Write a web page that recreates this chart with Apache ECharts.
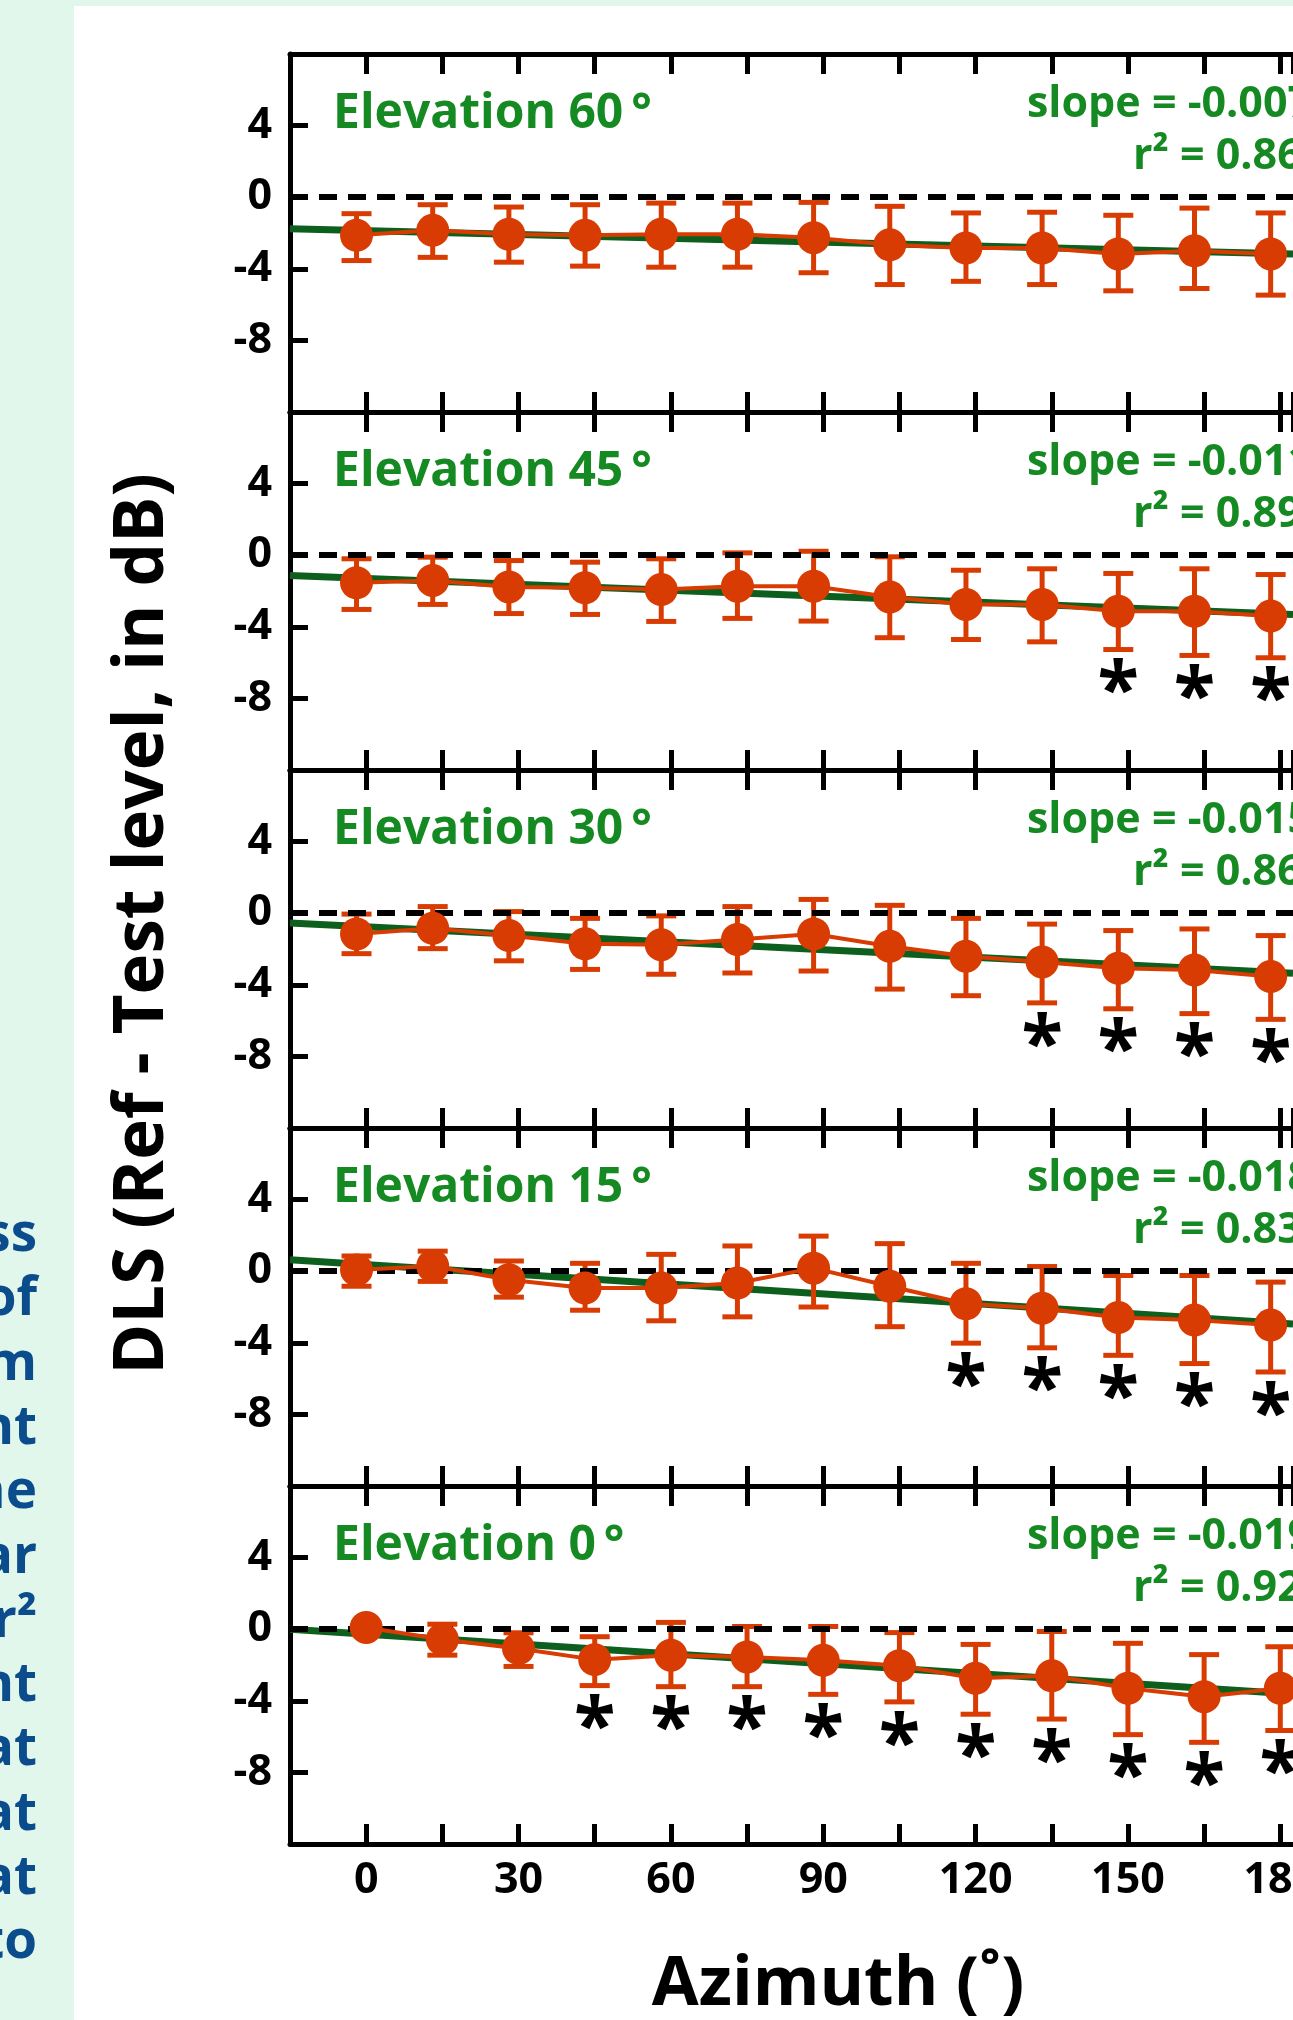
<!DOCTYPE html>
<html><head><meta charset="utf-8">
<script src="https://cdn.jsdelivr.net/npm/echarts@6/dist/echarts.min.js"></script>
<style>html,body{margin:0;padding:0;background:#fff}#c{width:1293px;height:2020px}</style>
</head><body><div id="c"></div>
<script>
// ---------- data ----------
const azimuths = [0, 15, 30, 45, 60, 75, 90, 105, 120, 135, 150, 165, 180];
const xTickLabels = [0, 30, 60, 90, 120, 150, 180];
const yTickLabels = [4, 0, -4, -8];
const panelTitles = ['Elevation 60\u2009°', 'Elevation 45\u2009°', 'Elevation 30\u2009°', 'Elevation 15\u2009°', 'Elevation 0\u2009°'];
const slopeTexts = ['-0.007', '-0.011', '-0.015', '-0.018', '-0.019'];
const r2Texts = ['0.86', '0.89', '0.86', '0.83', '0.92'];

const mean60  = [-2.13, -1.85, -2.07, -2.13, -2.07, -2.07, -2.26, -2.66, -2.84, -2.84, -3.17, -2.99, -3.17];
const upper60 = [-0.92, -0.42, -0.55, -0.42, -0.33, -0.33, -0.29, -0.51, -0.88, -0.84, -1.01, -0.61, -0.88];
const lower60 = [-3.54, -3.36, -3.63, -3.85, -3.91, -3.91, -4.22, -4.88, -4.70, -4.88, -5.23, -5.10, -5.47];
const sig60 = [];
const fit60 = [[-15, -1.76], [182.5, -3.18]];

const mean45  = [-1.54, -1.41, -1.77, -1.82, -1.92, -1.73, -1.73, -2.34, -2.75, -2.75, -3.13, -3.13, -3.40];
const upper45 = [-0.20, -0.11, -0.30, -0.39, -0.20, 0.13, 0.22, -0.09, -0.84, -0.76, -1.02, -0.76, -1.08];
const lower45 = [-3.03, -2.75, -3.26, -3.31, -3.70, -3.53, -3.68, -4.61, -4.71, -4.84, -5.27, -5.60, -5.73];
const sig45 = [150, 165, 180];
const fit45 = [[-15, -1.13], [182.5, -3.31]];

const mean30  = [-1.16, -0.84, -1.25, -1.71, -1.76, -1.47, -1.16, -1.85, -2.40, -2.72, -3.08, -3.17, -3.54];
const upper30 = [-0.05, 0.37, 0.09, -0.29, -0.15, 0.37, 0.77, 0.44, -0.29, -0.61, -0.97, -0.88, -1.25];
const lower30 = [-2.26, -1.98, -2.66, -3.14, -3.41, -3.34, -3.23, -4.24, -4.61, -5.01, -5.34, -5.61, -5.93];
const sig30 = [135, 150, 165, 180];
const fit30 = [[-15, -0.55], [182.5, -3.36]];

const mean15  = [0.07, 0.29, -0.48, -0.94, -0.94, -0.66, 0.17, -0.84, -1.82, -2.07, -2.59, -2.73, -3.01];
const upper15 = [0.85, 1.12, 0.57, 0.44, 0.94, 1.41, 1.96, 1.54, 0.44, 0.26, -0.24, -0.24, -0.61];
const lower15 = [-0.84, -0.57, -1.45, -2.18, -2.77, -2.55, -2.00, -3.10, -4.02, -4.28, -4.70, -5.16, -5.63];
const sig15 = [120, 135, 150, 165, 180];
const fit15 = [[-15, 0.64], [182.5, -2.95]];

const mean0  = [0.10, -0.57, -1.08, -1.70, -1.45, -1.55, -1.74, -2.04, -2.74, -2.60, -3.30, -3.77, -3.30];
const upper0 = [0.35, 0.28, -0.20, -0.42, 0.38, 0.15, 0.15, -0.19, -0.85, -0.13, -0.79, -1.42, -0.98];
const lower0 = [-0.15, -1.45, -2.08, -3.15, -3.21, -3.21, -3.64, -4.06, -4.75, -5.02, -5.89, -6.32, -5.66];
const sig0 = [45, 60, 75, 90, 105, 120, 135, 150, 165, 180];
const fit0 = [[-15, 0.0], [182.5, -3.62]];

const sideTextLines = ['ss', 'of', 'm', 'nt', 'ne', 'ar', 'r²', 'nt', 'at', 'at', 'at', 'to'];

// ---------- style / layout ----------
const FONT = '"Open Sans", "DejaVu Sans", sans-serif';
const ORANGE = '#d83c02';
const FITGREEN = '#0c5f1c';
const TEXTGREEN = '#168a22';
const MINT = '#e1f7ec';
const GRID_LEFT = 290, GRID_TOP = 54, PANEL_H = 358, GRID_W = 1003;
const X_MIN = -15, X_MAX = 182.5;
const pointShift = [-1.9, -1.9, -1.9, -1.9, 0]; // drawn offset of points as seen in the figure

const panels = [
  {mean: mean60, upper: upper60, lower: lower60, sig: sig60, fit: fit60},
  {mean: mean45, upper: upper45, lower: lower45, sig: sig45, fit: fit45},
  {mean: mean30, upper: upper30, lower: lower30, sig: sig30, fit: fit30},
  {mean: mean15, upper: upper15, lower: lower15, sig: sig15, fit: fit15},
  {mean: mean0, upper: upper0, lower: lower0, sig: sig0, fit: fit0}
];

function errRender(params, api) {
  const x = api.value(0);
  const pLo = api.coord([x, api.value(1)]);
  const pHi = api.coord([x, api.value(2)]);
  const cw = 15;
  const st = {stroke: ORANGE, lineWidth: 5};
  return {type: 'group', children: [
    {type: 'line', shape: {x1: pLo[0], y1: pLo[1], x2: pHi[0], y2: pHi[1]}, style: st},
    {type: 'line', shape: {x1: pLo[0] - cw, y1: pLo[1], x2: pLo[0] + cw, y2: pLo[1]}, style: st},
    {type: 'line', shape: {x1: pHi[0] - cw, y1: pHi[1], x2: pHi[0] + cw, y2: pHi[1]}, style: st}
  ]};
}
function starRender(params, api) {
  const p = api.coord([api.value(0), api.value(1)]);
  return {type: 'text', x: p[0], y: p[1] + 44, style: {
    text: '*', fill: '#000', fontSize: 76, fontWeight: 'bold', fontFamily: FONT,
    align: 'center', textAlign: 'center', verticalAlign: 'middle', textVerticalAlign: 'middle'
  }};
}

const grids = [], xAxes = [], yAxes = [], series = [], graphics = [];

graphics.push({type: 'rect', shape: {x: 0, y: 0, width: 1293, height: 6}, style: {fill: MINT}, z: -10});
graphics.push({type: 'rect', shape: {x: 0, y: 0, width: 74, height: 2020}, style: {fill: MINT}, z: -10});
sideTextLines.forEach((t, k) => {
  graphics.push({type: 'text', x: 37, y: 1236 + k * 64.3, style: {
    text: t, fill: '#0b4d8c', fontSize: 53, fontWeight: 'bold', fontFamily: FONT,
    align: 'right', textAlign: 'right', verticalAlign: 'middle', textVerticalAlign: 'middle'}});
});

const lineSt = {color: '#000', width: 5};
panels.forEach((p, i) => {
  const top = GRID_TOP + i * PANEL_H;
  const last = i === panels.length - 1;
  grids.push({left: GRID_LEFT, top: top, width: GRID_W, height: PANEL_H, show: false,
    containLabel: false, outerBoundsMode: 'none'});
  const tickStyle = {show: true, inside: true, length: 20, lineStyle: {color: '#000', width: 5}};
  xAxes.push({type: 'value', gridIndex: i, position: 'bottom', min: X_MIN, max: X_MAX, interval: 15,
    axisLine: {show: true, onZero: false, lineStyle: lineSt}, splitLine: {show: false}, axisTick: tickStyle,
    axisLabel: {show: last, margin: 15, color: '#000', fontSize: 43, fontWeight: 'bold', fontFamily: FONT,
      showMinLabel: false, showMaxLabel: false, hideOverlap: false,
      formatter: v => xTickLabels.indexOf(v) >= 0 ? String(v) : ''}});
  xAxes.push({type: 'value', gridIndex: i, position: 'top', min: X_MIN, max: X_MAX, interval: 15,
    axisLine: {show: true, onZero: false, lineStyle: lineSt}, splitLine: {show: false}, axisTick: tickStyle,
    axisLabel: {show: false}});
  yAxes.push({type: 'value', gridIndex: i, position: 'left', min: -12, max: 8, interval: 4,
    axisLine: {show: true, onZero: false, lineStyle: lineSt}, splitLine: {show: false},
    axisTick: {show: true, inside: true, length: 18, lineStyle: {color: '#000', width: 5}},
    axisLabel: {margin: 18, color: '#000', fontSize: 43, fontWeight: 'bold', fontFamily: FONT,
      formatter: v => yTickLabels.indexOf(v) >= 0 ? String(v) : ''}});

  const sh = pointShift[i];
  series.push({type: 'line', xAxisIndex: 2 * i, yAxisIndex: i, data: p.fit, symbol: 'none', silent: true,
    lineStyle: {color: FITGREEN, width: 7}, z: 2,
    markLine: {silent: true, symbol: 'none', label: {show: false},
      lineStyle: {color: '#000', width: 6, type: [18, 11]}, data: [{yAxis: 0}]}});
  series.push({type: 'custom', xAxisIndex: 2 * i, yAxisIndex: i, renderItem: errRender, silent: true, z: 4,
    data: azimuths.map((a, j) => [a + sh, p.lower[j], p.upper[j]])});
  series.push({type: 'line', xAxisIndex: 2 * i, yAxisIndex: i, symbol: 'circle', symbolSize: 33, silent: true, z: 5,
    itemStyle: {color: ORANGE}, lineStyle: {color: ORANGE, width: 4},
    data: azimuths.map((a, j) => [a + sh, p.mean[j]])});
  series.push({type: 'custom', xAxisIndex: 2 * i, yAxisIndex: i, renderItem: starRender, silent: true, z: 6,
    data: p.sig.map(a => [a + sh, p.lower[azimuths.indexOf(a)]])});

  graphics.push({type: 'text', x: 333, y: top + 60, style: {
    text: panelTitles[i], fill: TEXTGREEN, fontSize: 48, fontWeight: 'bold', fontFamily: FONT,
    align: 'left', textAlign: 'left', verticalAlign: 'middle', textVerticalAlign: 'middle'}});
  graphics.push({type: 'text', x: 1027, y: top + 51, style: {
    text: 'slope = ' + slopeTexts[i], fill: TEXTGREEN, fontSize: 43, fontWeight: 'bold', fontFamily: FONT,
    align: 'left', textAlign: 'left', verticalAlign: 'middle', textVerticalAlign: 'middle'}});
  graphics.push({type: 'text', x: 1133, y: top + 103, style: {
    text: 'r² = ' + r2Texts[i], fill: TEXTGREEN, fontSize: 43, fontWeight: 'bold', fontFamily: FONT,
    align: 'left', textAlign: 'left', verticalAlign: 'middle', textVerticalAlign: 'middle'}});
});

graphics.push({type: 'text', x: 143, y: 924, rotation: Math.PI / 2, style: {
  text: 'DLS (Ref - Test level, in dB)', fill: '#000', fontSize: 69, fontWeight: 'bold', fontFamily: FONT,
  align: 'center', textAlign: 'center', verticalAlign: 'middle', textVerticalAlign: 'middle'}});
graphics.push({type: 'text', x: 838, y: 1986, style: {
  text: 'Azimuth (˚)', fill: '#000', fontSize: 68, fontWeight: 'bold', fontFamily: FONT,
  align: 'center', textAlign: 'center', verticalAlign: 'middle', textVerticalAlign: 'middle'}});

const chart = echarts.init(document.getElementById('c'), null, {renderer: 'canvas'});
chart.setOption({
  backgroundColor: '#fff',
  animation: false,
  grid: grids, xAxis: xAxes, yAxis: yAxes, series: series,
  graphic: {elements: graphics}
});
</script></body></html>
